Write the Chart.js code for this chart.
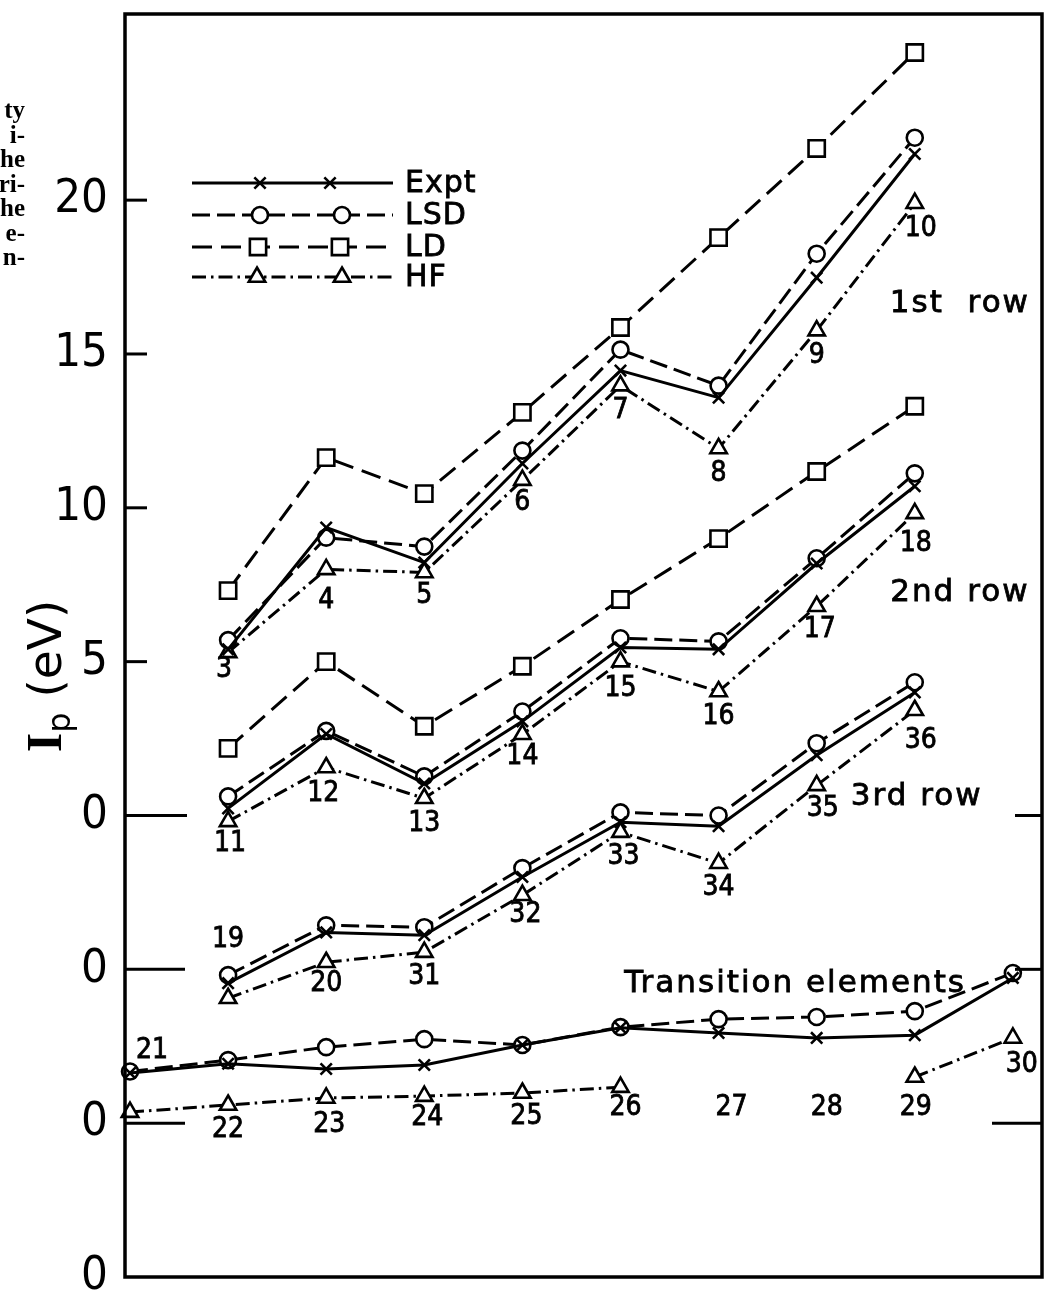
<!DOCTYPE html>
<html><head><meta charset="utf-8">
<script src="https://cdn.jsdelivr.net/npm/chart.js@4.4.1/dist/chart.umd.min.js"></script>
<style>html,body{margin:0;padding:0;background:#fff;overflow:hidden;}#wrap{width:1045px;height:1293px;position:relative;}canvas{display:block;}</style>
</head><body><div id="wrap"><canvas id="c" width="1045" height="1293"></canvas></div>
<script>
// ---------------- data (eV) ----------------
const mainColumns = [1, 2, 3, 4, 5, 6, 7, 8];
const transitionColumns = [0, 1, 2, 3, 4, 5, 6, 7, 8, 9];
const rowOffsets = [15, 10, 5, 0];          // each row is shifted up by this many eV
const elements1 = [3, 4, 5, 6, 7, 8, 9, 10];
const elements2 = [11, 12, 13, 14, 15, 16, 17, 18];
const elements3 = [19, 20, 31, 32, 33, 34, 35, 36];
const elementsT = [21, 22, 23, 24, 25, 26, 27, 28, 29, 30];

const expt1 = [5.4, 9.36, 8.22, 11.44, 14.46, 13.58, 17.48, 21.5];
const lsd1  = [5.7, 9.03, 8.74, 11.86, 15.14, 13.97, 18.26, 22.03];
const ld1   = [7.31, 11.63, 10.46, 13.1, 15.86, 18.78, 21.68, 24.8];
const hf1   = [5.3, 8.0, 7.9, 10.9, 13.97, 11.93, 15.76, 19.9];

const expt2 = [5.23, 7.65, 6.04, 8.06, 10.46, 10.4, 13.19, 15.7];
const lsd2  = [5.62, 7.75, 6.27, 8.38, 10.76, 10.66, 13.36, 16.12];
const ld2   = [7.18, 10.0, 7.9, 9.85, 12.02, 14.0, 16.18, 18.3];
const hf2   = [4.81, 6.56, 5.56, 7.64, 10.0, 9.03, 11.8, 14.82];

const expt3 = [4.55, 6.2, 6.11, 8.0, 9.78, 9.65, 11.96, 14.0];
const lsd3  = [4.81, 6.43, 6.37, 8.29, 10.1, 10.0, 12.35, 14.33];
const hf3   = [4.06, 5.23, 5.56, 7.41, 9.46, 8.45, 10.98, 13.42];

const exptT = [6.63, 6.93, 6.76, 6.89, 7.54, 8.1, 7.93, 7.77, 7.86, 9.72];
const lsdT  = [6.68, 7.05, 7.47, 7.73, 7.54, 8.12, 8.38, 8.45, 8.64, 9.88];
const hfT   = [5.36, 5.59, 5.82, 5.88, 5.98, 6.17, null, null, 6.5, 7.77];

const tickValues = [0, 5, 10, 15, 20, 25, 30, 35];
const tickLabels = ['0', '0', '0', '0', '5', '10', '15', '20'];
const seriesNames = ['Expt', 'LSD', 'LD', 'HF'];
const rowLabels = ['1st  row', '2nd row', '3rd row', 'Transition elements'];
const axisTitle = ['I', 'p', ' (eV)'];
const captionFragments = ['ty', 'i-', 'he', 'ri-', 'he', 'e-', 'n-'];

// ---------------- layout / style ----------------
const rows = [
  {cols: mainColumns, elements: elements1, offset: rowOffsets[0], series: {Expt: expt1, LSD: lsd1, LD: ld1, HF: hf1}},
  {cols: mainColumns, elements: elements2, offset: rowOffsets[1], series: {Expt: expt2, LSD: lsd2, LD: ld2, HF: hf2}},
  {cols: mainColumns, elements: elements3, offset: rowOffsets[2], series: {Expt: expt3, LSD: lsd3, HF: hf3}},
  {cols: transitionColumns, elements: elementsT, offset: rowOffsets[3], series: {Expt: exptT, LSD: lsdT, HF: hfT}}
];
const seriesStyle = {
  Expt: {pointStyle: 'crossRot', pointRadius: 8, borderDash: []},
  LSD:  {pointStyle: 'circle', pointRadius: 8, borderDash: [18, 7]},
  LD:   {pointStyle: 'rect', pointRadius: 11.5, borderDash: [20, 9]},
  HF:   {pointStyle: 'triangle', pointRadius: 9.5, borderDash: [14, 5, 2.5, 5]}
};
// label nudges in px relative to the lowest marker of the column: [dx, dy, ref]
const labelNudge = {
  3: [-4, 17], 4: [0, 31], 5: [0, 23], 6: [0, 23], 10: [6, 25],
  11: [2, 22], 12: [-3, 26], 14: [0, 22], 15: [0, 27], 17: [3, 23], 18: [1, 30],
  19: [0, -35, 'top'], 20: [0, 21], 32: [3, 20], 33: [3, 25], 35: [6, 23], 36: [6, 30],
  21: [22, -21, 'top'], 23: [3, 27], 24: [3, 22], 25: [4, 24], 26: [5, 21],
  27: [13, 75], 28: [10, 70], 29: [1, 31], 30: [9, 27]
};
const rowLabelAt = [{x: 8.46, y: 31.62}, {x: 8.46, y: 22.23}, {x: 8.02, y: 15.6}, {x: 6.78, y: 9.52}];
const leftTickLen  = [0, 60, 60, 62, 22, 22, 22, 22];
const rightTickLen = [0, 50, 27, 27, 0, 0, 0, 0];

const datasets = [];
seriesNames.forEach(name => {
  rows.forEach((r, ri) => {
    const vals = r.series[name];
    if (!vals) return;
    const st = seriesStyle[name];
    datasets.push({
      label: name + ' ' + ri,
      data: r.cols.map((c, i) => ({x: c, y: vals[i] == null ? null : vals[i] + r.offset})),
      borderColor: '#000', borderWidth: 3, borderDash: st.borderDash,
      pointStyle: st.pointStyle, pointRadius: st.pointRadius,
      pointBackgroundColor: '#fff', pointBorderColor: '#000', pointBorderWidth: 2.6,
      fill: false, tension: 0, spanGaps: false, clip: false
    });
  });
});

const FONT = '"DejaVu Sans Condensed", "DejaVu Sans", sans-serif';

function boldText(ctx, t, x, y) { ctx.fillText(t, x, y); ctx.strokeText(t, x, y); }

const decor = {
  id: 'decor',
  afterDraw(chart) {
    const ctx = chart.ctx, a = chart.chartArea, xs = chart.scales.x, ys = chart.scales.y;
    ctx.save();
    ctx.strokeStyle = '#000'; ctx.fillStyle = '#000'; ctx.setLineDash([]);
    // frame
    ctx.lineWidth = 3.5;
    ctx.strokeRect(a.left, a.top, a.right - a.left, a.bottom - a.top);
    // inner ticks
    ctx.lineWidth = 3;
    tickValues.forEach((v, i) => {
      const py = ys.getPixelForValue(v);
      if (leftTickLen[i]) { ctx.beginPath(); ctx.moveTo(a.left, py); ctx.lineTo(a.left + leftTickLen[i], py); ctx.stroke(); }
      if (rightTickLen[i]) { ctx.beginPath(); ctx.moveTo(a.right, py); ctx.lineTo(a.right - rightTickLen[i], py); ctx.stroke(); }
    });
    // element numbers
    ctx.lineWidth = 0.8;
    ctx.font = '28px ' + FONT; ctx.textAlign = 'center'; ctx.textBaseline = 'middle';
    rows.forEach(r => {
      r.elements.forEach((el, i) => {
        const vals = Object.values(r.series).map(s => s[i]).filter(v => v != null);
        const nudge = labelNudge[el] || [0, 25];
        const ref = nudge[2] === 'top' ? Math.max(...vals) : Math.min(...vals);
        const px = xs.getPixelForValue(r.cols[i]) + nudge[0];
        const py = ys.getPixelForValue(ref + r.offset) + nudge[1];
        boldText(ctx, String(el), px, py);
      });
    });
    // row labels
    ctx.font = '31px "DejaVu Sans", sans-serif';
    try { ctx.letterSpacing = '2px'; } catch (e) {}
    rowLabels.forEach((t, i) => {
      boldText(ctx, t, xs.getPixelForValue(rowLabelAt[i].x), ys.getPixelForValue(rowLabelAt[i].y));
    });
    try { ctx.letterSpacing = '1px'; } catch (e) {}
    // legend
    const legY = [183, 215, 247, 277];
    const legMarkX = {Expt: [260, 330], LSD: [260, 342], LD: [258, 340], HF: [257, 342]};
    seriesNames.forEach((name, i) => {
      const st = seriesStyle[name], y = legY[i];
      ctx.lineWidth = 3; ctx.setLineDash(st.borderDash);
      ctx.beginPath(); ctx.moveTo(192, y); ctx.lineTo(393, y); ctx.stroke();
      ctx.setLineDash([]);
      ctx.fillStyle = '#fff'; ctx.lineWidth = 2.6;
      legMarkX[name].forEach(mx => {
        Chart.helpers.drawPoint(ctx, {pointStyle: st.pointStyle, radius: st.pointRadius, rotation: 0, borderWidth: 2.6}, mx, y);
      });
      ctx.fillStyle = '#000'; ctx.lineWidth = 0.8;
      ctx.font = '30px "DejaVu Sans", sans-serif'; ctx.textAlign = 'left';
      boldText(ctx, name, 405, y + 1);
    });
    try { ctx.letterSpacing = '0px'; } catch (e) {}
    // y-axis title (rotated, with subscript)
    ctx.save();
    ctx.translate(44, 676); ctx.rotate(-Math.PI / 2);
    const f1 = 'bold 50px "Liberation Serif", serif', f2 = '32px "DejaVu Sans", sans-serif', f3 = '47px "DejaVu Sans", sans-serif';
    ctx.font = f1; const w1 = ctx.measureText(axisTitle[0]).width;
    ctx.font = f2; const w2 = ctx.measureText(axisTitle[1]).width;
    ctx.font = f3; const w3 = ctx.measureText(axisTitle[2]).width;
    let x0 = -(w1 + w2 + w3) / 2; const base = 17;
    ctx.textAlign = 'left'; ctx.textBaseline = 'alphabetic';
    ctx.font = f1; ctx.fillText(axisTitle[0], x0, base); x0 += w1;
    ctx.font = f2; ctx.fillText(axisTitle[1], x0, base + 9); x0 += w2;
    ctx.font = f3; ctx.fillText(axisTitle[2], x0, base);
    ctx.restore();
    // caption fragments from neighbouring text
    ctx.font = 'bold 25px "Liberation Serif", serif'; ctx.textAlign = 'right'; ctx.textBaseline = 'middle';
    captionFragments.forEach((t, i) => ctx.fillText(t, 25, 112 + i * 24.5));
    ctx.restore();
  }
};

new Chart(document.getElementById('c'), {
  type: 'line',
  data: {datasets},
  options: {
    responsive: false, animation: false, events: [],
    layout: {autoPadding: false, padding: {left: 0, top: 14, right: 3, bottom: 16}},
    plugins: {legend: {display: false}, tooltip: {enabled: false}, title: {display: false}},
    scales: {
      x: {type: 'linear', min: -0.051, max: 9.297, display: false},
      y: {
        type: 'linear', min: 0, max: 41.05,
        afterBuildTicks: s => { s.ticks = tickValues.map(v => ({value: v})); },
        afterFit: s => { s.width = 125; s.paddingTop = 0; s.paddingBottom = 0; },
        ticks: {callback: (v, i) => tickLabels[i], font: {family: '"DejaVu Sans Condensed", "DejaVu Sans", sans-serif', size: 47}, color: '#000', padding: 17, autoSkip: false},
        grid: {display: false, drawTicks: false},
        border: {display: false}
      }
    }
  },
  plugins: [decor]
});
</script></body></html>
